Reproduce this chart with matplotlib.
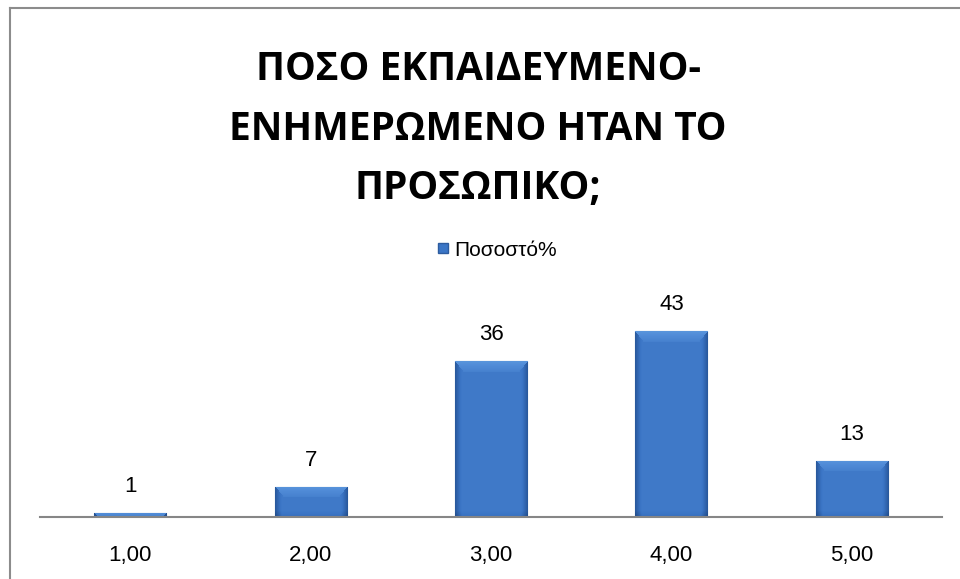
import numpy as np
import matplotlib
matplotlib.use("Agg")
import matplotlib.pyplot as plt
from matplotlib import font_manager
from matplotlib.lines import Line2D

categories = ["1,00", "2,00", "3,00", "4,00", "5,00"]
percent = [1, 7, 36, 43, 13]
series_name = "Ποσοστό%"
title = "ΠΟΣΟ ΕΚΠΑΙΔΕΥΜΕΝΟ-\nΕΝΗΜΕΡΩΜΕΝΟ ΗΤΑΝ ΤΟ\nΠΡΟΣΩΠΙΚΟ;"

names = {f.name for f in font_manager.fontManager.ttflist}
title_font = next((n for n in ["Liberation Sans Narrow", "Open Sans", "DejaVu Sans"] if n in names))
body_font = "Liberation Sans"

W, H = 960, 579
fig = plt.figure(figsize=(W / 100, H / 100), dpi=100)
fig.patch.set_facecolor("white")

# plot area: axis line at y=517px, 43 -> y=331px
ax_left, ax_right = 40 / W, 942 / W
ax_bottom = (H - 517) / H
ax_top = (H - 290) / H
ax = fig.add_axes([ax_left, ax_bottom, ax_right - ax_left, ax_top - ax_bottom])
px = (517 - 331) / 43          # pixels per unit
ymax = (517 - 290) / px
ax.set_ylim(0, ymax)
x = np.arange(len(categories))
ax.set_xlim(-0.5, len(categories) - 0.5)

bars = ax.bar(x, percent, width=0.4, color="#3b76c6", edgecolor="#2d5c9f", linewidth=0.8, zorder=2)

# bevelled fill: light top band, darker side edges
cmap = matplotlib.colors.LinearSegmentedColormap.from_list(
    "bev", ["#234f8f", "#3a74c4", "#4f8ad6", "#6aa6e6"])
for b in bars:
    bx, bw, bh = b.get_x(), b.get_width(), b.get_height()
    hpx = max(bh * px, 2)
    wpx = 72
    yy = np.arange(int(hpx) + 1)[:, None] + 0.5
    xx = np.arange(wpx)[None, :] + 0.5
    dside = np.minimum(xx, wpx - xx)
    img = np.full((yy.shape[0], wpx), 0.42)
    side = np.clip(1 - dside / 7, 0, 1)
    img = img - 0.35 * side
    topband = (yy < 11) & (dside > yy * 0.8)
    img = np.where(topband, 0.8 - yy / 40, img)
    img = img - 0.12 * np.clip(1 - (hpx - yy) / 6, 0, 1)
    im = ax.imshow(np.clip(img, 0, 1), extent=[bx, bx + bw, 0, bh], cmap=cmap, vmin=0, vmax=1,
                   aspect="auto", origin="upper", zorder=2.5, interpolation="bilinear")
    im.set_clip_path(b)

for xi, v in zip(x, percent):
    ax.annotate(str(v), (xi, v), xytext=(0, 19), textcoords="offset points",
                ha="center", va="center", fontsize=16, family=body_font, color="black")

for s in ["top", "right", "left"]:
    ax.spines[s].set_visible(False)
ax.spines["bottom"].set_color("#868686")
ax.spines["bottom"].set_linewidth(1.5)
ax.set_yticks([])
ax.set_xticks(x)
ax.set_xticklabels(categories, fontsize=16, family=body_font)
ax.tick_params(axis="x", length=0, pad=20)
ax.set_facecolor("none")

fig.text(0.498, 1 - 129 / H, title, ha="center", va="center", fontsize=28,
         fontweight="bold", family=title_font, linespacing=1.68)

handle = Line2D([], [], marker="s", linestyle="none", markersize=7.5,
                markerfacecolor="#3b76c6", markeredgecolor="#2d5c9f")
fig.legend([handle], [series_name], loc="center", bbox_to_anchor=(0.517, 1 - 250 / H),
           frameon=False, prop={"family": body_font, "size": 15}, handletextpad=0.2,
           handlelength=0.7, borderaxespad=0)

# outer chart frame
fig.add_artist(Line2D([10 / W, 10 / W], [0, 1 - 8 / H], color="#8c8c8c", lw=1.5))
fig.add_artist(Line2D([10 / W, 1], [1 - 8 / H, 1 - 8 / H], color="#8c8c8c", lw=1.5))

fig.savefig("out.png", dpi=100)
